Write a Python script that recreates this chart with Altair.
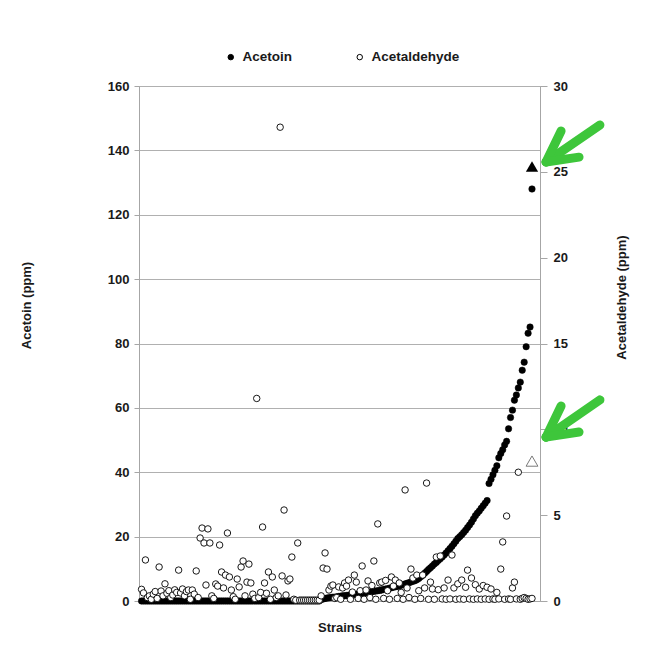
import altair as alt
import pandas as pd

# ---------------- data ----------------
strain = list(range(1, 202))

acetoin = [
    0, 0, 0, 0, 0, 0, 0, 0, 0, 0,
    0, 0, 0, 0, 0, 0, 0, 0, 0, 0,
    0, 0, 0, 0, 0, 0, 0, 0, 0, 0,
    0, 0, 0, 0, 0, 0, 0, 0, 0, 0,
    0, 0, 0, 0, 0, 0, 0, 0, 0, 0,
    0, 0, 0, 0, 0, 0, 0, 0, 0, 0,
    0, 0, 0, 0, 0, 0, 0, 0, 0, 0,
    0, 0, 0, 0, 0, 0, 0, 0, 0, 0,
    0, 0, 0, 0, 0, 0, 0, 0, 0, 0,
    0, 0,
    0.5, 0.6, 0.8, 0.9, 1.0, 1.1, 1.2, 1.2, 1.3, 1.4,
    1.5, 1.6, 1.6, 1.7, 1.8, 1.9, 2.0, 2.0, 2.1, 2.2,
    2.3, 2.4, 2.5, 2.6, 2.7, 2.8, 2.9, 3.0, 3.1, 3.2,
    3.3, 3.4, 3.6, 3.7, 3.8, 4.0, 4.1, 4.3, 4.4, 4.5,
    4.7, 4.9, 5.1, 5.3, 5.5, 5.7, 5.9, 6.1, 6.3, 6.6,
    7.0, 7.5, 8.0, 8.6, 9.2, 9.8, 10.3, 10.9, 11.5, 12.0,
    12.6, 13.1, 13.7, 14.3, 14.9, 15.6, 16.3, 17.0, 17.8, 18.6,
    19.4, 20.0, 20.6, 21.3, 22.0, 22.8, 23.6, 24.5, 25.5, 26.5,
    27.3, 28.0, 28.8, 29.6, 30.4, 31.2, 36.5, 37.8, 39.2, 40.6,
    42.0, 44.5, 45.8, 47.0, 48.5, 49.6, 53.5, 57.0, 59.3, 62.4,
    64.0, 66.2, 68.0, 71.7, 74.2, 79.0, 83.2, 85.1, 128.0,
]

acetaldehyde = [
    0.68, 0.47, 2.39, 0.2, 0.3, 0.1, 0.4, 0.55, 0.15, 1.98,
    0.58, 0.3, 1.0, 0.45, 0.6, 0.2, 0.35, 0.65, 0.5, 1.8,
    0.47, 0.7, 0.3, 0.55, 0.64, 0.1, 0.64, 0.4, 1.75, 0.2,
    3.67, 4.25, 3.38, 0.93, 4.2, 3.38, 0.3, 0.15, 0.99, 0.87,
    3.26, 1.69, 0.76, 1.51, 3.96, 1.4, 0.64, 0.25, 0.1, 1.28,
    0.82, 1.98, 2.33, 0.3, 1.1, 2.15, 1.05, 0.4, 0.15, 11.8,
    0.2, 0.5, 4.31, 1.05, 0.45, 1.69, 0.1, 1.4, 0.64, 0.2,
    0.3, 27.6, 1.46, 5.3, 0.35, 1.17, 1.28, 2.56, 0.1, 0.05,
    3.38, 0.05, 0.05, 0.05, 0.05, 0.05, 0.05, 0.05, 0.05, 0.05,
    0.05, 0.05, 0.3, 1.92, 2.8, 1.86, 0.64, 0.87, 0.93, 0.15,
    0.2, 0.82, 0.1, 0.76, 1.05, 0.87, 1.22, 0.1, 0.52, 1.51,
    1.1, 0.15, 0.6, 2.04, 0.1, 0.64, 1.17, 0.2, 0.9, 2.33,
    0.1, 4.49, 1.05, 1.1, 0.15, 1.2, 0.6, 0.1, 1.4, 0.87,
    1.22, 0.15, 1.05, 0.5, 0.1, 6.47, 0.76, 0.2, 1.86, 1.34,
    0.1, 1.51, 0.6, 0.15, 1.51, 0.76, 6.87, 0.1, 1.1, 0.7,
    0.1, 2.56, 0.66, 2.62, 0.12, 0.76, 0.1, 1.22, 0.12, 2.68,
    0.76, 0.1, 1.0, 0.12, 1.22, 0.1, 0.8, 1.8, 0.12, 1.34,
    0.1, 0.95, 0.12, 0.7, 0.1, 0.9, 0.12, 0.8, 0.1, 0.7,
    0.12, 0.1, 0.5, 0.12, 1.86, 3.44, 0.1, 4.95, 0.12, 0.1,
    0.76, 1.1, 0.12, 7.5, 0.1, 0.15, 0.2, 0.15, 0.1, 0.12,
    0.15,
]

# reference strain (triangles)
ref_strain = [201]
ref_acetoin = [135.0]
ref_acetaldehyde = [8.15]

# green annotation arrows (data coordinates: strain index / acetoin ppm)
arrow_x = [235.8, 215.9, 225.1, 235.8, 215.9, 225.1]
arrow_y = [147.9, 146.0, 137.9, 62.5, 60.6, 52.5]
arrow_x2 = [208.2, 208.2, 208.2, 208.2, 208.2, 208.2]
arrow_y2 = [136.4, 136.4, 136.4, 50.9, 50.9, 50.9]

series = ["Acetoin", "Acetaldehyde"]

df = pd.DataFrame({"strain": strain, "Acetoin": acetoin, "Acetaldehyde": acetaldehyde})
ref = pd.DataFrame({"strain": ref_strain, "Acetoin": ref_acetoin, "Acetaldehyde": ref_acetaldehyde})
arrows = pd.DataFrame({"x": arrow_x, "y": arrow_y, "x2": arrow_x2, "y2": arrow_y2})

FONT = "Liberation Sans"
GRAY = "#a6a6a6"
TXT = "#1a1a1a"

xscale = alt.Scale(domain=[-0.3, 205.1], nice=False, zero=False)
yleft = alt.Scale(domain=[0, 160], nice=False, zero=True)
yright = alt.Scale(domain=[0, 30], nice=False, zero=True)

x_axis = alt.Axis(title="Strains", labels=False, ticks=False, grid=False,
                  domainColor=GRAY, titlePadding=20)
left_axis = alt.Axis(title="Acetoin (ppm)", values=[0, 20, 40, 60, 80, 100, 120, 140, 160],
                     grid=True, gridColor="#b0b0b0", tickSize=5, labelPadding=5,
                     titlePadding=74, titleY=219)
right_axis = alt.Axis(title="Acetaldehyde (ppm)", orient="right", values=[0, 5, 10, 15, 20, 25, 30],
                      grid=False, tickSize=7, labelPadding=6, titleAngle=270,
                      titlePadding=61, titleY=211)

fill_scale = alt.Scale(domain=series, range=["black", "white"])
legend = alt.Legend(
    orient="none", legendX=85, legendY=-36, direction="horizontal", title=None,
    labelFont=FONT, labelFontSize=13.5, labelFontWeight="bold", labelColor=TXT,
    symbolType="circle", symbolSize=30, symbolStrokeColor="black", symbolStrokeWidth=1,
    columnPadding=60, labelOffset=5, padding=0,
)

acetoin_pts = alt.Chart(df).transform_calculate(series="'Acetoin'").mark_circle(
    size=42, opacity=1, stroke="black", strokeWidth=0.5, clip=False).encode(
    x=alt.X("strain:Q", scale=xscale, axis=x_axis),
    y=alt.Y("Acetoin:Q", scale=yleft, axis=left_axis),
    fill=alt.Fill("series:N", scale=fill_scale, legend=legend),
)

black_tri = alt.Chart(ref).mark_point(shape="triangle-up", filled=True, fill="black", size=150,
                                      opacity=1, clip=False).encode(
    x=alt.X("strain:Q", scale=xscale, axis=x_axis),
    y=alt.Y("Acetoin:Q", scale=yleft, axis=left_axis),
)

arrow_rules = alt.Chart(arrows).mark_rule(color="#3ec63b", strokeWidth=9, strokeCap="round", clip=False).encode(
    x=alt.X("x:Q", scale=xscale, axis=x_axis),
    y=alt.Y("y:Q", scale=yleft, axis=left_axis),
    x2="x2:Q",
    y2="y2:Q",
)

acetaldehyde_pts = alt.Chart(df).transform_calculate(series="'Acetaldehyde'").mark_circle(
    size=42, opacity=1, stroke="black", strokeWidth=0.9, clip=False).encode(
    x=alt.X("strain:Q", scale=xscale, axis=x_axis),
    y=alt.Y("Acetaldehyde:Q", scale=yright, axis=right_axis),
    fill=alt.Fill("series:N", scale=fill_scale, legend=legend),
)

open_tri = alt.Chart(ref).mark_point(shape="triangle-up", filled=True, fill="white", stroke="#7a7a7a",
                                     strokeWidth=1, size=140, opacity=1, clip=False).encode(
    x=alt.X("strain:Q", scale=xscale, axis=x_axis),
    y=alt.Y("Acetaldehyde:Q", scale=yright, axis=right_axis),
)

left = alt.layer(acetoin_pts, black_tri, arrow_rules)
right = alt.layer(acetaldehyde_pts, open_tri)

chart = alt.layer(left, right).resolve_scale(y="independent").properties(
    width=401, height=515,
    padding={"left": 20, "top": 50, "right": 10, "bottom": 10},
    background="white",
).configure_axis(
    labelFont=FONT, labelFontSize=13, labelFontWeight="bold", labelColor=TXT,
    titleFont=FONT, titleFontSize=13, titleFontWeight="bold", titleColor=TXT,
    domainColor=GRAY, tickColor=GRAY,
).configure_view(stroke=GRAY, strokeWidth=1)

chart.save("out.html", embed_options={"renderer": "svg", "actions": False})
